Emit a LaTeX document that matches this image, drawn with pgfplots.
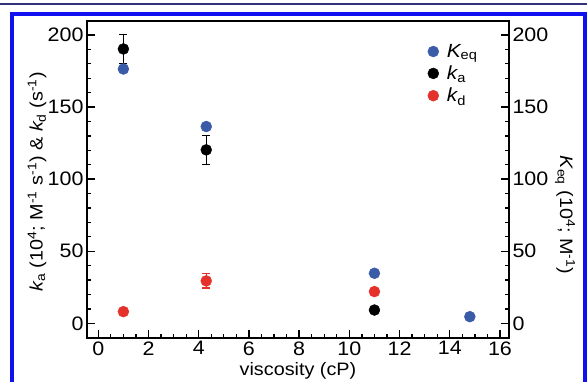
\documentclass[border=0pt]{standalone}
\usepackage{fontspec}
\setmainfont{Liberation Sans}[FakeStretch=1.1]
\usepackage{pgfplots}
\pgfplotsset{compat=1.18}
\definecolor{cblue}{RGB}{58,91,168}
\definecolor{cred}{RGB}{229,49,43}
\definecolor{framebl}{RGB}{16,16,240}
\definecolor{navy}{RGB}{50,50,120}
\newcommand{\fs}{\fontsize{18}{21}\selectfont}
\newcommand{\ft}{\fontsize{19.5}{22}\selectfont}
\begin{document}
\begin{tikzpicture}[x=1pt,y=1pt]
\fill[white] (0,0) rectangle (587,381);
\draw[navy, line width=2pt] (0,377) -- (587,377);
\draw[framebl, line width=4pt] (12,-5) -- (12,367) -- (585,367) -- (585,-5);
\pgfplotsset{
  common/.style={
    at={(87pt,43pt)}, anchor=south west,
    scale only axis, width=422pt, height=317pt,
    xmin=-0.45, xmax=16.36, ymin=-10.2, ymax=209.7,
    axis line style={line width=1.5pt},
    every tick/.style={line width=1.3pt, black},
    major tick length=8pt, minor tick length=4pt,
    tick align=inside,
    tick label style={font=\ft},
    label style={font=\fs},
    /pgf/number format/assume math mode=true,
    ytick={0,50,...,200}, minor y tick num=4,
  }
}
\begin{axis}[common,
  xtick={0,2,...,16}, minor x tick num=3,
  xtick pos=bottom, ytick pos=left,
  xlabel={viscosity (cP)},
  xlabel style={at={(rel axis cs:0.5,-0.104)}, anchor=center},
  ylabel={{\itshape k}\textsubscript{a} (10\textsuperscript{4}; M\textsuperscript{-1} s\textsuperscript{-1}) \& {\itshape k}\textsubscript{d} (s\textsuperscript{-1})},
  ylabel style={at={(rel axis cs:-0.1185,0.492)}, anchor=center},
  legend style={at={(rel axis cs:0.80,0.94)}, anchor=north west, draw=none, fill=none,
    font=\fontsize{19}{22}\selectfont, row sep=3pt,
    /tikz/every odd column/.append style={column sep=6pt}},
  legend cell align=left,
]
\addplot[only marks, mark=*, mark size=5.5pt, color=cblue] coordinates {
  (1,176.4) (4.3,136.5) (11,34.7) (14.8,4.6)
};
\addlegendentry{{\itshape K}\textsubscript{eq}}
\addplot[only marks, mark=*, mark size=5.5pt, color=black,
  error bars/.cd, y dir=both, y explicit,
  error bar style={line width=1.4pt, black},
  error mark options={rotate=90, mark size=4pt, line width=1.4pt, black}]
  coordinates {
  (1,190.3) +- (0,10)
  (4.3,120.3) +- (0,10)
  (11,9.2) +- (0,0)
};
\addlegendentry{{\itshape k}\textsubscript{a}}
\addplot[only marks, mark=*, mark size=5.5pt, color=cred,
  error bars/.cd, y dir=both, y explicit,
  error bar style={line width=1.4pt, cred},
  error mark options={rotate=90, mark size=4pt, line width=1.4pt, cred}]
  coordinates {
  (1,8.1) +- (0,2)
  (4.3,29.4) +- (0,5)
  (11,22) +- (0,2)
};
\addlegendentry{{\itshape k}\textsubscript{d}}
\end{axis}
\begin{axis}[common,
  axis x line=none, axis y line*=right,
  ylabel={{\itshape K}\textsubscript{eq} (10\textsuperscript{4}; M\textsuperscript{-1})},
  ylabel style={at={(rel axis cs:1.1327,0.388)}, anchor=center, rotate=180},
]
\end{axis}
\pgfresetboundingbox
\useasboundingbox (0,0) rectangle (587,381);
\end{tikzpicture}
\end{document}
